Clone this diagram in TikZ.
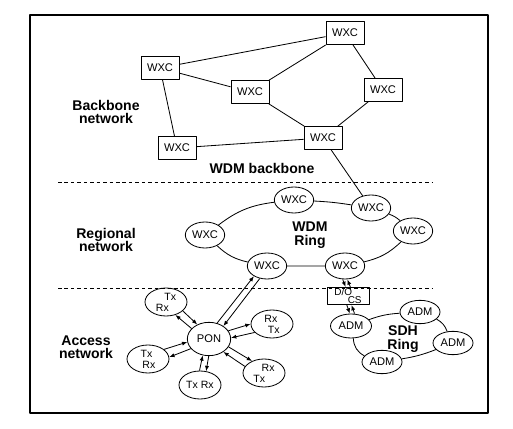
\documentclass[tikz,border=0pt]{standalone}
\usepackage{fontspec}
\setmainfont{Liberation Sans}
\usetikzlibrary{shapes.geometric,arrows.meta}

\begin{document}
\begin{tikzpicture}[x=0.03cm,y=0.03cm,line join=round,line width=0.7pt,
    >={Latex[length=4.5pt,width=3.5pt]},
    wxc/.style={draw,minimum width=1.14cm,minimum height=0.69cm,font=\fontsize{9.5}{10}\selectfont},
    ring/.style={draw,ellipse,inner sep=0pt,minimum width=1.18cm,minimum height=0.78cm,font=\fontsize{9.5}{10}\selectfont},
    trx/.style={draw,ellipse,inner sep=0pt,align=left,minimum width=1.26cm,minimum height=0.84cm,font=\fontsize{9}{9.5}\selectfont},
    lbl/.style={align=center,font=\bfseries\fontsize{12}{11.5}\selectfont},
    sep/.style={dash pattern=on 3pt off 2.5pt,line width=0.6pt}]
    \useasboundingbox (0,0) rectangle (513,429);
    \draw[line width=1.2pt] (30,16) rectangle (488,414);
    \node[wxc] (B1) at (160,361) {WXC};
    \node[wxc] (B2) at (345,396) {WXC};
    \node[wxc] (B3) at (250,337) {WXC};
    \node[wxc] (B4) at (383,339) {WXC};
    \node[wxc] (B5) at (177,281) {WXC};
    \node[wxc] (B6) at (323,291) {WXC};
    \node[lbl] (bb) at (106,317) {Backbone\\network};
    \node[lbl] (wb) at (262,261) {WDM backbone};
    \draw (B1) -- (B2) (B1) -- (B3) (B1) -- (B5) (B3) -- (B2);
    \draw (B3) -- (B6) (B2) -- (B4) (B4) -- (B6) (B5) -- (B6);
    \draw[sep] (58,247) -- (433,247);
    \node[ring] (R1) at (205,194) {WXC};
    \node[ring] (R2) at (294,229) {WXC};
    \node[ring] (R3) at (371,221) {WXC};
    \node[ring] (R4) at (413,198) {WXC};
    \node[ring] (R5) at (345,163) {WXC};
    \node[ring] (R6) at (267,163) {WXC};
    \node[lbl] (wr) at (310,194) {WDM\\Ring};
    \node[lbl] (rn) at (106,189) {Regional\\network};
    \draw (R1) to[bend left=15] (R2) (R2) to[bend left=3] (R3) (R3) to[bend left=10] (R4);
    \draw (R4) to[bend left=15] (R5) (R5) -- (R6) (R6) to[bend left=15] (R1);
    \draw (B6) -- (R3);
    \draw[sep] (58,141) -- (433,141);
    \node[draw,align=left,inner sep=0.5pt,minimum width=1.26cm,minimum height=0.52cm,font=\fontsize{8.5}{7.5}\selectfont] (D) at (348,133) {D/O\\\hspace*{4mm}CS};
    \node[ring,minimum width=1.23cm,minimum height=0.72cm] (A1) at (351,103) {ADM};
    \node[ring,minimum width=1.2cm,minimum height=0.7cm] (A2) at (420,117) {ADM};
    \node[ring,minimum width=1.2cm,minimum height=0.7cm] (A3) at (453,86) {ADM};
    \node[ring,minimum width=1.2cm,minimum height=0.7cm] (A4) at (382,67) {ADM};
    \node[lbl] (sr) at (403,90) {SDH\\Ring};
    \draw (A1) to[bend left=8] (A2) (A2) to[bend left=20] (A3) (A3) to[bend left=6] (A4) (A4) to[bend left=30] (A1);
    \draw[->] ([xshift=-2pt]R5.south) -- ([xshift=-2pt]D.north);
    \draw[->] ([xshift=2pt]D.north) -- ([xshift=2pt]R5.south);
    \draw[->] ([xshift=-1pt]D.south) -- ([xshift=-1pt]A1.north);
    \draw[->] ([xshift=3pt]A1.north) -- ([xshift=3pt]D.south);
    \node[ring,minimum width=1.3cm,minimum height=1cm] (P) at (209,90) {PON};
    \node[trx] (T1) at (166,127) {\hspace*{2.5mm}Tx\\Rx};
    \node[trx] (T2) at (272,105) {Rx\\\hspace*{1mm}Tx};
    \node[trx] (T3) at (148,70) {Tx\\\hspace*{0.5mm}Rx};
    \node[trx] (T4) at (264,56) {\hspace*{2.5mm}Rx\\Tx};
    \node[trx] (T5) at (200,44) {Tx Rx};
    \node[lbl] (an) at (86,82) {Access\\network};
    \draw[->] (P.63) -- (R6.218);
    \draw[->] (R6.240) -- (P.42);
    \draw[->] (P.149) -- (T1.306);
    \draw[->] (T1.332) -- (P.129);
    \draw[->] (P.23) -- (T2.180);
    \draw[->] (T2.206) -- (P.3);
    \draw[->] (P.208) -- (T3.5);
    \draw[->] (T3.31) -- (P.188);
    \draw[->] (P.269) -- (T5.66);
    \draw[->] (T5.92) -- (P.249);
    \draw[->] (P.338) -- (T4.135);
    \draw[->] (T4.161) -- (P.318);
\end{tikzpicture}
\end{document}
